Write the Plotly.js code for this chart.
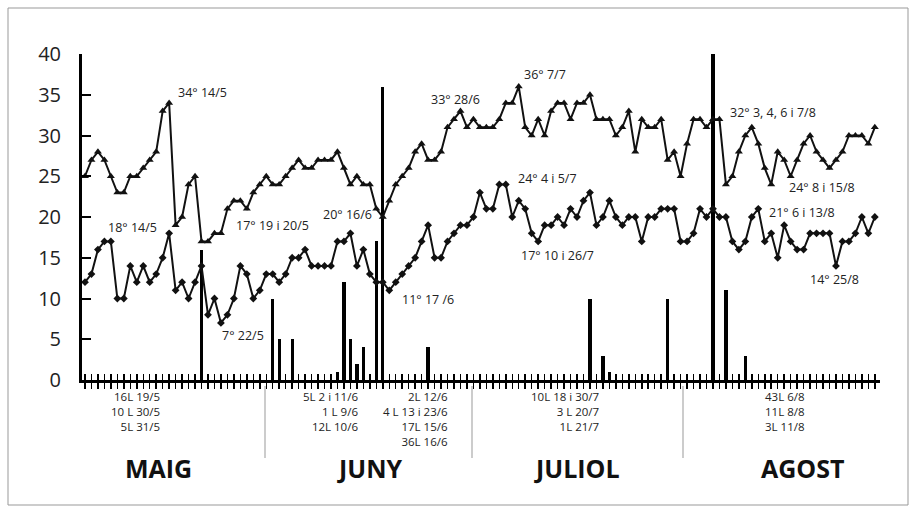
<!DOCTYPE html>
<html>
<head>
<meta charset="utf-8">
<script src="https://cdn.plot.ly/plotly-3.0.1.min.js"></script>
<style>
html,body{margin:0;padding:0;background:#fff;}
#chart{width:916px;height:512px;}
</style>
</head>
<body>
<div id="chart"></div>
<script>
// Daily values, 1 May to 31 August
const maxTemp = [
  25,27,28,27,25,23,23,25,25,26,27,28,33,34,19,20,24,25,17,17,18,
  18,21,22,22,21,23,24,25,24,24,25,26,27,26,26,27,27,27,28,26,24,
  25,24,24,21,20,22,24,25,26,28,29,27,27,28,31,32,33,31,32,31,31,
  31,32,34,34,36,31,30,32,30,33,34,34,32,34,34,35,32,32,32,30,31,
  33,28,32,31,31,32,27,28,25,29,32,32,31,32,32,24,25,28,30,31,29,
  26,24,28,27,25,27,29,30,28,27,26,27,28,30,30,30,29,31
];
const minTemp = [
  12,13,16,17,17,10,10,14,12,14,12,13,15,18,11,12,10,12,14,8,10,
  7,8,10,14,13,10,11,13,13,12,13,15,15,16,14,14,14,14,17,17,18,
  14,16,13,12,12,11,12,13,14,15,17,19,15,15,17,18,19,19,20,23,21,
  21,24,24,20,22,21,18,17,19,19,20,19,21,20,22,23,19,20,22,20,19,
  20,20,17,20,20,21,21,21,17,17,18,21,20,21,20,20,17,16,17,20,21,
  17,18,15,19,17,16,16,18,18,18,18,14,17,17,18,20,18,20
];
const rainDates = ['19/5','30/5','31/5','2/6','9/6','10/6','11/6','12/6','13/6','15/6','16/6','23/6',
                   '18/7','20/7','21/7','30/7','6/8','8/8','11/8'];
const rainL = [16,10,5,5,1,12,5,2,4,17,36,4,10,3,1,10,43,11,3];

const months = ['MAIG','JUNY','JULIOL','AGOST'];
const rainNotes = [
  ['16L 19/5','10 L 30/5','5L 31/5'],
  ['5L 2 i 11/6','1 L 9/6','12L 10/6'],
  ['2L 12/6','4 L 13 i 23/6','17L 15/6','36L 16/6'],
  ['10L 18 i 30/7','3 L 20/7','1L 21/7'],
  ['43L 6/8','11L 8/8','3L 11/8']
];
const tempNotes = [
  '34° 14/5','18° 14/5','17° 19 i 20/5','7° 22/5','20° 16/6','11° 17 /6','33° 28/6',
  '36° 7/7','24° 4 i 5/7','17° 10 i 26/7','32° 3, 4, 6 i 7/8','24° 8 i 15/8','21° 6 i 13/8','14° 25/8'
];

const monthStart = {5:0, 6:31, 7:61, 8:92};
function dayIndex(s){ const p = s.split('/'); return monthStart[+p[1]] + (+p[0]) - 1; }
const days = maxTemp.map((_, i) => i);
const rainX = rainDates.map(dayIndex);

// layout geometry (pixels)
const L = 82, R = 36, T = 54, B = 132, W = 916, H = 512;
const pw = W - L - R, ph = H - T - B;
const px = x => (x - L) / pw;
const py = y => (H - B - y) / ph;

const FONT = 'Open Sans, Noto Sans, sans-serif';
const annotations = [];

// temperature notes (layout positions in px: centre x, centre y)
const notePos = [[202,92],[132,227],[272,225],[243,335],[347,214],[428,299],[455,99],
                 [545,74],[547,178],[557,255],[773,112],[822,187],[802,212],[834,279]];
tempNotes.forEach((t, k) => annotations.push({
  text: t, xref: 'paper', yref: 'paper', x: px(notePos[k][0]), y: py(notePos[k][1]),
  xanchor: 'center', yanchor: 'middle', showarrow: false,
  font: {family: FONT, size: 12.5, color: '#222'}
}));

// rain notes: right-aligned columns, one multi-line text each
const colRight = [161, 359, 449, 600, 806];
rainNotes.forEach((col, c) => annotations.push({
  text: col.join('<br>'), xref: 'paper', yref: 'paper', x: px(colRight[c]), y: py(388),
  xanchor: 'right', yanchor: 'top', align: 'right', showarrow: false, borderpad: 0,
  font: {family: FONT, size: 11.5, color: '#222'}
}));

// month labels
const monthX = [158, 369, 577, 803];
months.forEach((m, k) => annotations.push({
  text: '<b>' + m + '</b>', xref: 'paper', yref: 'paper', x: px(monthX[k]), y: py(468),
  xanchor: 'center', yanchor: 'middle', showarrow: false,
  font: {family: FONT, size: 25, color: '#111'}
}));

const shapes = [265, 472, 683].map(x => ({
  type: 'line', xref: 'paper', yref: 'paper', x0: px(x), x1: px(x), y0: py(386), y1: py(458),
  line: {color: '#999', width: 1}
}));
shapes.push({
  type: 'rect', xref: 'paper', yref: 'paper', x0: px(8), x1: px(908), y0: py(505), y1: py(8),
  line: {color: '#999', width: 1}, layer: 'below'
});

const traces = [
  {type: 'bar', x: rainX, y: rainL, width: 0.5, marker: {color: '#000', line: {width: 0}},
   hoverinfo: 'x+y'},
  {type: 'scatter', mode: 'lines+markers', x: days, y: maxTemp,
   line: {color: '#111', width: 2}, marker: {symbol: 'triangle-up', size: 7, color: '#111'}},
  {type: 'scatter', mode: 'lines+markers', x: days, y: minTemp,
   line: {color: '#111', width: 2}, marker: {symbol: 'diamond', size: 6, color: '#111'}},
  {type: 'scatter', mode: 'markers', x: [0], y: [0], xaxis: 'x2', marker: {opacity: 0},
   hoverinfo: 'skip'}
];

const xr = [-0.46, 122.8];
const layout = {
  width: W, height: H,
  margin: {l: L, r: R, t: T, b: B, pad: 0},
  paper_bgcolor: '#fff', plot_bgcolor: '#fff',
  showlegend: false, bargap: 0,
  font: {family: FONT, color: '#222'},
  xaxis: {range: xr, showgrid: false, zeroline: false, showline: true, linecolor: '#000', linewidth: 2.5,
          ticks: 'outside', ticklen: 6, tickwidth: 1.5, tickcolor: '#000', dtick: 1, tick0: 0,
          showticklabels: false, fixedrange: true},
  xaxis2: {range: xr, overlaying: 'x', side: 'bottom', showgrid: false, zeroline: false, showline: false,
           ticks: 'inside', ticklen: 6, tickwidth: 1.5, tickcolor: '#000', dtick: 1, tick0: 0,
           showticklabels: false, fixedrange: true},
  yaxis: {range: [0, 40], dtick: 5, showgrid: false, zeroline: false, showline: true, linecolor: '#000',
          linewidth: 3, ticks: 'inside', ticklen: 9, tickwidth: 2, tickcolor: '#000',
          ticklabelstandoff: 14, tickfont: {family: FONT, size: 20, color: '#222'}, fixedrange: true},
  annotations: annotations,
  shapes: shapes
};

Plotly.newPlot('chart', traces, layout, {displayModeBar: false, staticPlot: true});
</script>
</body>
</html>
